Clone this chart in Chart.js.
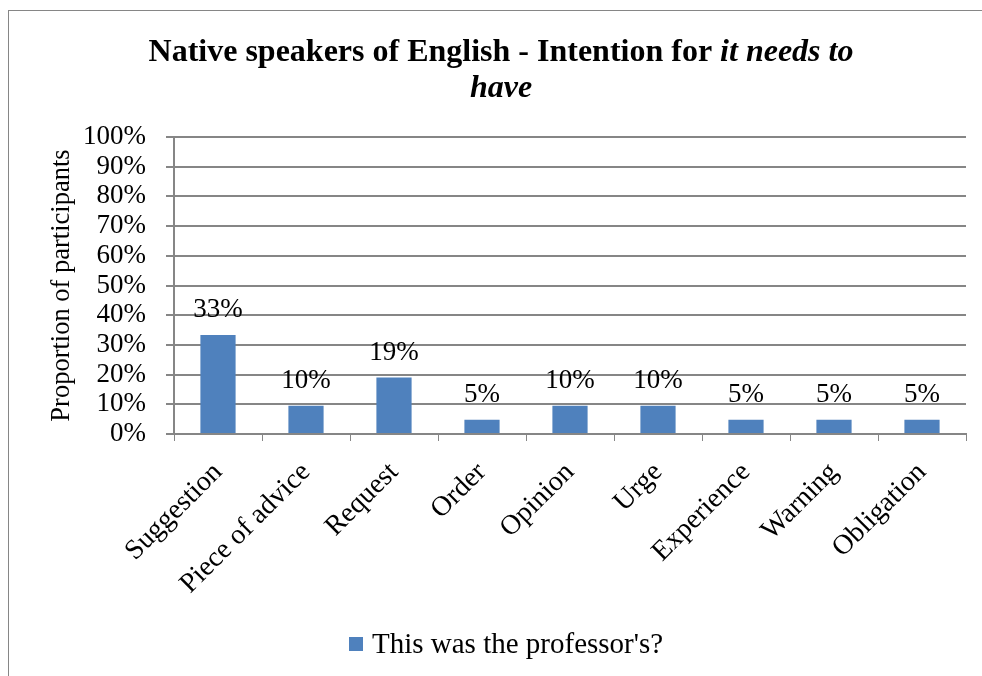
<!DOCTYPE html>
<html>
<head>
<meta charset="utf-8">
<script src="https://cdn.jsdelivr.net/npm/chart.js@4"></script>
<style>
  html, body { margin: 0; padding: 0; background: #fff; }
  #frame { position: absolute; left: 8px; top: 10px; width: 1000px; height: 700px;
           border-left: 1px solid #868686; border-top: 1px solid #868686; }
  #wrap { position: absolute; left: 0; top: 0; width: 982px; height: 676px; }
</style>
</head>
<body>
<div id="frame"></div>
<div id="wrap"><canvas id="intencao"></canvas></div>
<script>
// dados (proporcao em %)
let categorias = ["Suggestion", "Piece of advice", "Request", "Order", "Opinion", "Urge", "Experience", "Warning", "Obligation"];
let proporcoes = [33.3, 9.5, 19.0, 4.8, 9.5, 9.5, 4.8, 4.8, 4.8];
let rotulos = ["33%", "10%", "19%", "5%", "10%", "10%", "5%", "5%", "5%"];
let yTicks = [0, 10, 20, 30, 40, 50, 60, 70, 80, 90, 100];
let serie = "This was the professor's?";

let fonte = "'Liberation Serif', 'Times New Roman', serif";
let azul = '#4F81BD';
let cinza = '#868686';

// titulo com parte em italico, rotulos das barras e legenda
let extras = {
    id: 'extras',
    afterDatasetsDraw(chart) {
        let ctx = chart.ctx;
        ctx.save();
        ctx.fillStyle = '#000';
        // rotulos acima das barras
        ctx.font = "27px " + fonte;
        ctx.textAlign = 'center';
        ctx.textBaseline = 'alphabetic';
        chart.getDatasetMeta(0).data.forEach(function(bar, i) {
            ctx.fillText(rotulos[i], bar.x, bar.y - 18);
        });
        // titulo
        let p1 = "Native speakers of English - Intention for ";
        let p2 = "it needs to";
        ctx.font = "bold 32px " + fonte;
        let w1 = ctx.measureText(p1).width;
        ctx.font = "italic bold 32px " + fonte;
        let w2 = ctx.measureText(p2).width;
        let cx = 501;
        let x0 = cx - (w1 + w2) / 2;
        ctx.textAlign = 'left';
        ctx.font = "bold 32px " + fonte;
        ctx.fillText(p1, x0, 61);
        ctx.font = "italic bold 32px " + fonte;
        ctx.fillText(p2, x0 + w1, 61);
        ctx.textAlign = 'center';
        ctx.fillText("have", cx, 97);
        // legenda
        ctx.fillStyle = azul;
        ctx.fillRect(349, 637, 14, 14);
        ctx.fillStyle = '#000';
        ctx.font = "29px " + fonte;
        ctx.textAlign = 'left';
        ctx.fillText(serie, 372, 653);
        ctx.restore();
    }
};

new Chart("intencao", {
    type: "bar",
    data: {
        labels: categorias,
        datasets: [{
            label: serie,
            backgroundColor: azul,
            data: proporcoes,
            barPercentage: 0.4,
            categoryPercentage: 1.0
        }]
    },
    options: {
        responsive: true,
        maintainAspectRatio: false,
        animation: false,
        layout: { padding: { left: 46, right: 16, top: 137, bottom: 40 } },
        plugins: {
            legend: { display: false },
            title: { display: false },
            tooltip: { enabled: false }
        },
        scales: {
            x: {
                offset: true,
                grid: { display: true, drawOnChartArea: false, drawTicks: true, tickLength: 7, color: cinza, offset: true },
                border: { color: cinza, width: 2 },
                ticks: {
                    color: '#000',
                    font: { family: fonte, size: 28 },
                    minRotation: 45,
                    maxRotation: 45,
                    autoSkip: false,
                    padding: 15
                },
                afterFit(scale) { scale.height = 202; }
            },
            y: {
                min: 0,
                max: 100,
                afterBuildTicks(scale) { scale.ticks = yTicks.map(v => ({ value: v })); },
                grid: { color: cinza, lineWidth: 2, tickLength: 8 },
                border: { color: cinza, width: 2 },
                ticks: {
                    color: '#000',
                    font: { family: fonte, size: 27 },
                    padding: 20,
                    autoSkip: false,
                    callback: v => v + '%'
                },
                title: {
                    display: true,
                    text: "Proportion of participants",
                    color: '#000',
                    font: { family: fonte, size: 26.5 },
                    padding: 0
                },
                afterFit(scale) { scale.width = 128; }
            }
        }
    },
    plugins: [extras]
});
</script>
</body>
</html>
